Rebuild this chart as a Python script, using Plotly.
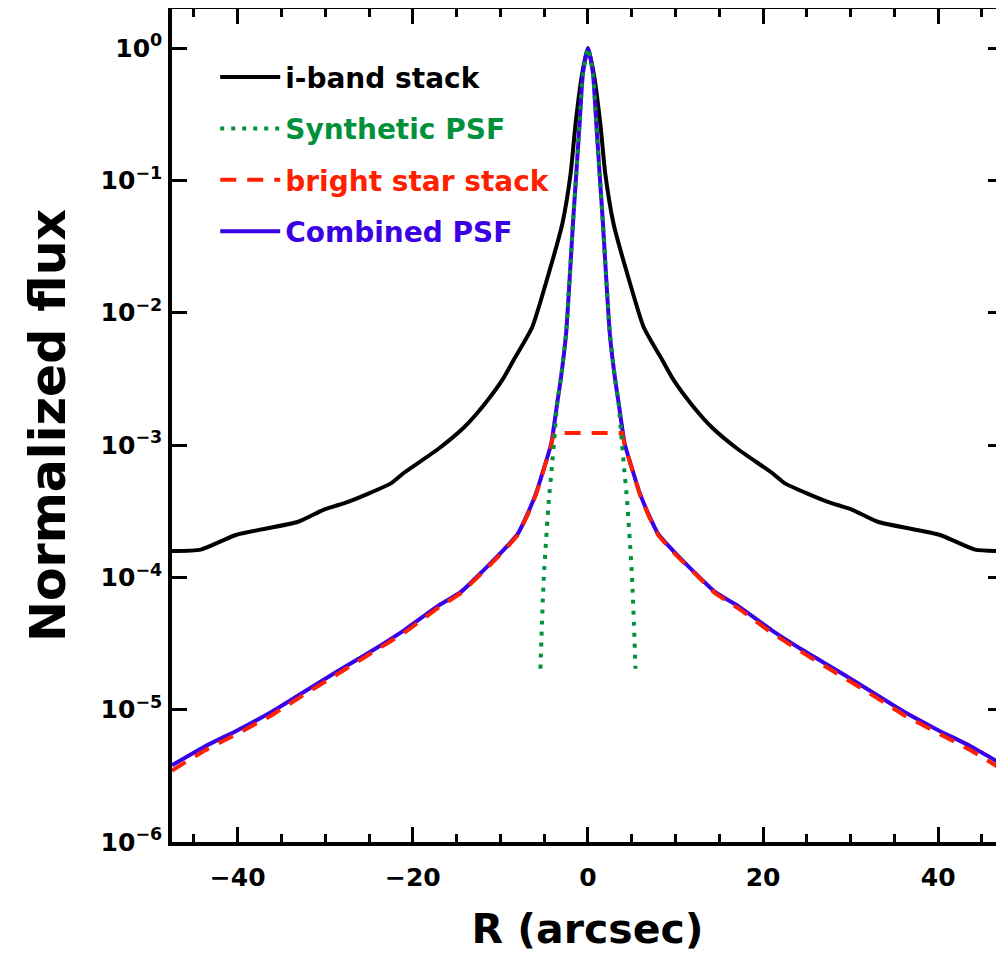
import numpy as np
import plotly.graph_objects as go

# ---- data (profiles; R >= 0, mirrored to negative R) ----
iband_r = [0, 0.65, 1.41, 1.98, 2.93, 4.46, 6.37, 8.5, 9.7, 11.9, 14.2, 17.1,
           21.0, 22.5, 24.8, 27.4, 30.2, 33.1, 40.2, 44.2, 47.5]
iband_flux = [1.0, 0.646, 0.269, 0.112, 0.0468, 0.020, 7.76e-3, 4.37e-3, 3.16e-3,
              2.0e-3, 1.35e-3, 9.33e-4, 6.17e-4, 5.13e-4, 4.37e-4, 3.72e-4,
              3.24e-4, 2.63e-4, 2.09e-4, 1.62e-4, 1.58e-4]

synth_r = [0, 0.57, 0.955, 1.335, 1.715, 2.05, 2.5, 3.1, 3.5, 3.79, 4.15, 4.47, 5.04, 5.43]
synth_flux = [1.0, 0.646, 0.269, 0.112, 0.0468, 0.020, 6.92e-3, 3.16e-3, 2.09e-3,
              1.23e-3, 6.46e-4, 3.8e-4, 1.0e-4, 2.04e-5]

star_r = [0, 3.9, 4.2, 5.0, 5.9, 6.9, 8.0, 9.6, 11.9, 14.5, 17.2, 21.0, 24.8,
          28.6, 32.4, 36.2, 40.0, 43.8, 47.5]
star_flux = [1.23e-3, 1.23e-3, 1.0e-3, 6.6e-4, 4.27e-4, 2.95e-4, 2.09e-4, 1.58e-4,
             1.11e-4, 7.59e-5, 5.82e-5, 3.8e-5, 2.63e-5, 1.86e-5, 1.30e-5, 9.0e-6,
             6.6e-6, 4.9e-6, 3.47e-6]

comb_r = [0, 0.57, 0.955, 1.335, 1.715, 2.05, 2.5, 3.1, 3.5, 4.2, 5.0, 5.9, 6.9,
          8.0, 9.6, 11.9, 14.5, 17.2, 21.0, 24.8, 28.6, 32.4, 36.2, 40.0, 43.8, 47.5]
comb_flux = [1.0, 0.646, 0.269, 0.112, 0.0468, 0.020, 6.92e-3, 3.16e-3, 2.09e-3,
             1.02e-3, 6.76e-4, 4.37e-4, 3.02e-4, 2.14e-4, 1.62e-4, 1.135e-4,
             7.76e-5, 6.03e-5, 3.98e-5, 2.75e-5, 1.95e-5, 1.365e-5, 9.55e-6,
             7.0e-6, 5.25e-6, 3.8e-6]

series_names = ["i-band stack", "Synthetic PSF", "bright star stack", "Combined PSF"]
series_colors = ["#000000", "#00913A", "#FF2000", "#3A00E6"]

y_tickvals = [1e-6, 1e-5, 1e-4, 1e-3, 1e-2, 1e-1, 1e0]
y_ticktext = ["10<sup>\u22126</sup>", "10<sup>\u22125</sup>", "10<sup>\u22124</sup>",
              "10<sup>\u22123</sup>", "10<sup>\u22122</sup>", "10<sup>\u22121</sup>",
              "10<sup>0</sup>"]


def mirror(r, f):
    r = np.asarray(r, float)
    f = np.asarray(f, float)
    return np.concatenate([-r[::-1], r[1:]]), np.concatenate([f[::-1], f[1:]])


FONT = "DejaVu Sans"

fig = go.Figure()


def label(i):
    return "<span style='color:%s'>%s</span>" % (series_colors[i], series_names[i])


x, y = mirror(iband_r, iband_flux)
fig.add_trace(go.Scatter(x=x, y=y, mode="lines", name=label(0), legendrank=1,
                         legendgroup="a",
                         line=dict(color=series_colors[0], width=4,
                                   shape="spline", smoothing=0.55)))
x, y = mirror(comb_r, comb_flux)
fig.add_trace(go.Scatter(x=x, y=y, mode="lines", name=label(3), legendrank=4,
                         legendgroup="d",
                         line=dict(color=series_colors[3], width=4,
                                   shape="spline", smoothing=0.55)))
x, y = mirror(star_r, star_flux)
fig.add_trace(go.Scatter(x=x, y=y, mode="lines", name=label(2), legendrank=3,
                         legendgroup="c",
                         line=dict(color=series_colors[2], width=4, dash="16px,11px")))
x, y = mirror(synth_r, synth_flux)
fig.add_trace(go.Scatter(x=x, y=y, mode="lines", name=label(1), legendrank=2,
                         legendgroup="b",
                         line=dict(color=series_colors[1], width=4, dash="4px,7px",
                                   shape="spline", smoothing=0.55)))

fig.update_layout(
    width=996, height=945,
    margin=dict(l=164, r=1, t=1, b=111, autoexpand=False),
    paper_bgcolor="white", plot_bgcolor="white",
    font=dict(family=FONT, color="black", weight="bold"),
    showlegend=True,
    legend=dict(x=0.052, y=0.948, xanchor="left", yanchor="top",
                bgcolor="rgba(0,0,0,0)", borderwidth=0,
                font=dict(family=FONT, size=28, color="black", weight="bold"),
                itemwidth=60, tracegroupgap=12, traceorder="grouped"),
)

fig.update_xaxes(
    range=[-47.5, 47.4], showgrid=False, zeroline=False, automargin=False,
    showline=True, linecolor="black", linewidth=3.5, mirror="ticks",
    ticks="inside", ticklen=15, tickwidth=3, tickcolor="black",
    tick0=0, dtick=20,
    minor=dict(ticks="inside", dtick=5, ticklen=8, tickwidth=3, tickcolor="black"),
    tickfont=dict(family=FONT, size=25, color="black", weight="bold"),
    ticklabelstandoff=10,
    title=dict(text="R (arcsec)", font=dict(family=FONT, size=41, color="black", weight="bold"),
               standoff=26),
)
fig.update_yaxes(
    type="log", range=[-6, 0.295], showgrid=False, zeroline=False, automargin=False,
    showline=True, linecolor="black", linewidth=3.5, mirror="ticks",
    ticks="inside", ticklen=15, tickwidth=3, tickcolor="black",
    tickvals=y_tickvals, ticktext=y_ticktext,
    tickfont=dict(family=FONT, size=25, color="black", weight="bold"),
    ticklabelstandoff=1,
    title=dict(text="Normalized flux", font=dict(family=FONT, size=49, color="black", weight="bold"),
               standoff=20),
)

fig.write_html("out.html")
